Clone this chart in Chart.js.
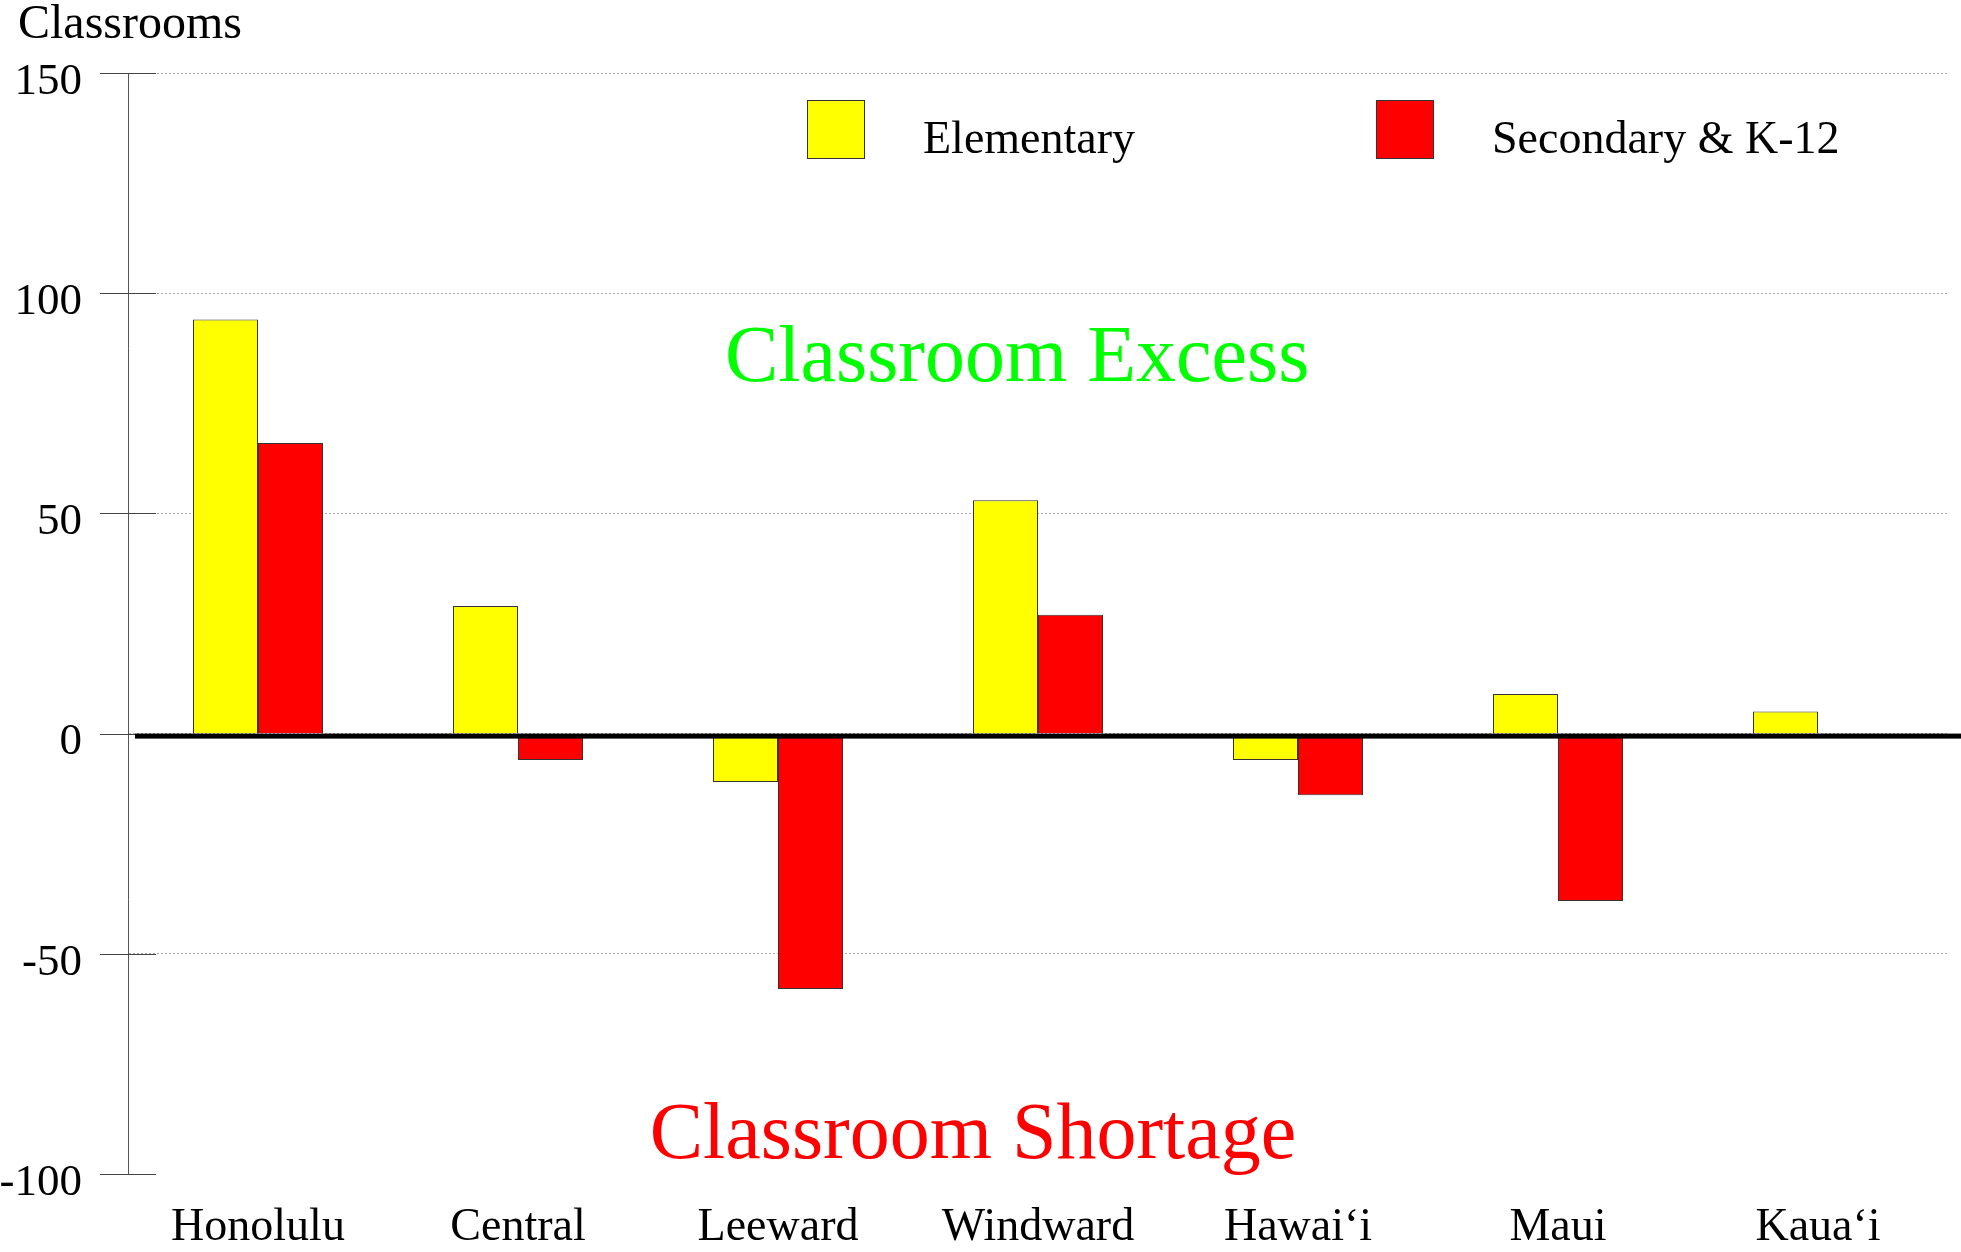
<!DOCTYPE html>
<html>
<head>
<meta charset="utf-8">
<script src="https://cdn.jsdelivr.net/npm/chart.js@4"></script>
<style>
  html, body { margin: 0; padding: 0; background: #fff; }
  #wrap { width: 1961px; height: 1252px; }
</style>
</head>
<body>
<div id="wrap"><canvas id="chart"></canvas></div>
<script>
// Data
const regions = ['Honolulu', 'Central', 'Leeward', 'Windward', 'Hawai‘i', 'Maui', 'Kaua‘i'];
const elementary = [94, 29, -11, 53, -6, 9, 5];
const secondary = [66, -6, -58, 27, -14, -38, 0];
const seriesNames = ['Elementary', 'Secondary & K-12'];
const yTicks = [-100, -50, 0, 50, 100, 150];

const serif = '"Liberation Serif", "Times New Roman", serif';

// Labels drawn on the plot, placed in data units (category index, value)
const notes = [
  { text: 'Classroom Excess', color: '#00ff00', at: [2.92, 80] },
  { text: 'Classroom Shortage', color: '#ff0000', at: [2.75, -96.3] }
];

const overlay = {
  id: 'overlay',
  afterDatasetsDraw(chart) {
    const { ctx, chartArea, scales } = chart;
    const x = scales.x, y = scales.y;
    ctx.save();

    // tick marks crossing the y axis
    ctx.strokeStyle = '#444';
    ctx.lineWidth = 1;
    yTicks.forEach(v => {
      const py = Math.round(y.getPixelForValue(v)) + 0.5;
      ctx.beginPath();
      ctx.moveTo(chartArea.left - 28, py);
      ctx.lineTo(chartArea.left + 28, py);
      ctx.stroke();
    });

    // heavy zero line
    const y0 = y.getPixelForValue(0);
    ctx.fillStyle = '#000';
    ctx.fillRect(chartArea.left + 7, y0, chart.width, 5);

    // axis title
    ctx.fillStyle = '#000';
    ctx.font = '48px ' + serif;
    ctx.textAlign = 'left';
    ctx.textBaseline = 'alphabetic';
    ctx.fillText('Classrooms', 18, 38);

    // legend
    const legendX = [807, 1376];
    chart.data.datasets.forEach((ds, i) => {
      ctx.fillStyle = ds.backgroundColor;
      ctx.fillRect(legendX[i], 100, 57, 58);
      ctx.strokeStyle = '#333';
      ctx.strokeRect(legendX[i] + 0.5, 100.5, 57, 58);
      ctx.fillStyle = '#000';
      ctx.font = '46px ' + serif;
      ctx.fillText(ds.label, legendX[i] + 116, 153);
    });

    // excess / shortage notes
    ctx.font = '80px ' + serif;
    ctx.textAlign = 'center';
    notes.forEach(n => {
      ctx.fillStyle = n.color;
      ctx.fillText(n.text, x.getPixelForValue(n.at[0]), y.getPixelForValue(n.at[1]));
    });
    ctx.restore();
  }
};

new Chart(document.getElementById('chart'), {
  type: 'bar',
  data: {
    labels: regions,
    datasets: [
      { label: seriesNames[0], data: elementary, backgroundColor: '#ffff00', borderColor: '#333', borderWidth: 1 },
      { label: seriesNames[1], data: secondary, backgroundColor: '#ff0000', borderColor: '#333', borderWidth: 1 }
    ]
  },
  options: {
    responsive: true,
    maintainAspectRatio: false,
    animation: false,
    categoryPercentage: 0.5,
    barPercentage: 1.0,
    layout: { padding: { top: 72, right: 13, bottom: 0, left: 0 } },
    plugins: {
      legend: { display: false },
      tooltip: { enabled: false }
    },
    scales: {
      x: {
        grid: { display: false },
        border: { display: false },
        ticks: { color: '#000', font: { family: serif, size: 46 }, padding: 18, maxRotation: 0 },
        afterFit(scale) { scale.height = 78; }
      },
      y: {
        min: -100,
        max: 150,
        grid: {
          color: ctx => (ctx.tick && ctx.tick.value === -100) ? 'rgba(0,0,0,0)' : '#a8a8a8',
          lineWidth: 1,
          drawTicks: false
        },
        border: { display: true, color: '#555', width: 1, dash: [2, 2] },
        ticks: {
          stepSize: 50,
          color: '#000',
          font: { family: serif, size: 45 },
          padding: 46,
          labelOffset: 9
        },
        afterFit(scale) { scale.width = 128; }
      }
    }
  },
  plugins: [overlay]
});
</script>
</body>
</html>
